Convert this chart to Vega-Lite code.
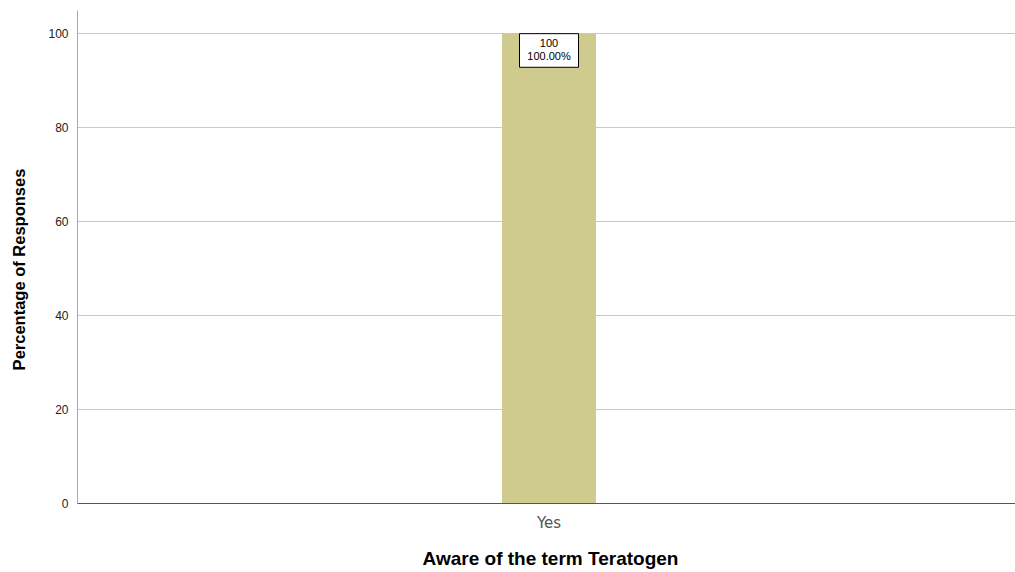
{
  "$schema": "https://vega.github.io/schema/vega-lite/v6.json",
  "width": 938,
  "height": 493,
  "autosize": "none",
  "padding": {"left": 77, "top": 10, "right": 0, "bottom": 69},
  "background": "white",
  "config": {
    "view": {"stroke": null},
    "font": "Liberation Sans"
  },
  "data": {"values": [{"answer": "Yes", "pct": 100, "label": "100\n100.00%"}]},
  "encoding": {
    "x": {
      "field": "answer", "type": "nominal",
      "title": "Aware of the term Teratogen",
      "axis": {
        "labelAngle": 0, "labelFontSize": 15, "labelColor": "#555555", "labelFont": "DejaVu Sans",
        "labelPadding": 12, "labelOffset": 3, "ticks": false, "domainColor": "#555555", "domainWidth": 1,
        "titleFontSize": 19, "titleFontWeight": "bold", "titleColor": "#000000", "titlePadding": 19, "titleX": 473
      }
    },
    "y": {
      "field": "pct", "type": "quantitative",
      "scale": {"domain": [0, 105], "nice": false},
      "title": "Percentage of Responses",
      "axis": {
        "values": [0, 20, 40, 60, 80, 100], "ticks": false, "labelFontSize": 12, "labelColor": "#222222",
        "labelPadding": 9, "domainColor": "#aaaaaa", "gridColor": "#c8c8c8", "gridWidth": 1,
        "titleFontSize": 16.5, "titleFontWeight": "bold", "titleColor": "#000000", "titlePadding": 20, "titleY": 259
      }
    }
  },
  "layer": [
    {"mark": {"type": "bar", "width": 94, "color": "#cfca8d", "xOffset": 3}},
    {
      "mark": {
        "type": "point", "shape": "M-1,-0.57L1,-0.57L1,0.57L-1,0.57Z", "size": 3481,
        "filled": false, "fill": "white", "fillOpacity": 1, "stroke": "#000000", "strokeWidth": 1, "opacity": 1, "yOffset": 17, "xOffset": 3
      }
    },
    {
      "mark": {"type": "text", "lineBreak": "\n", "fontSize": 11, "color": "#000000", "baseline": "middle", "yOffset": 11, "lineHeight": 13, "xOffset": 3},
      "encoding": {"text": {"field": "label"}}
    }
  ]
}
